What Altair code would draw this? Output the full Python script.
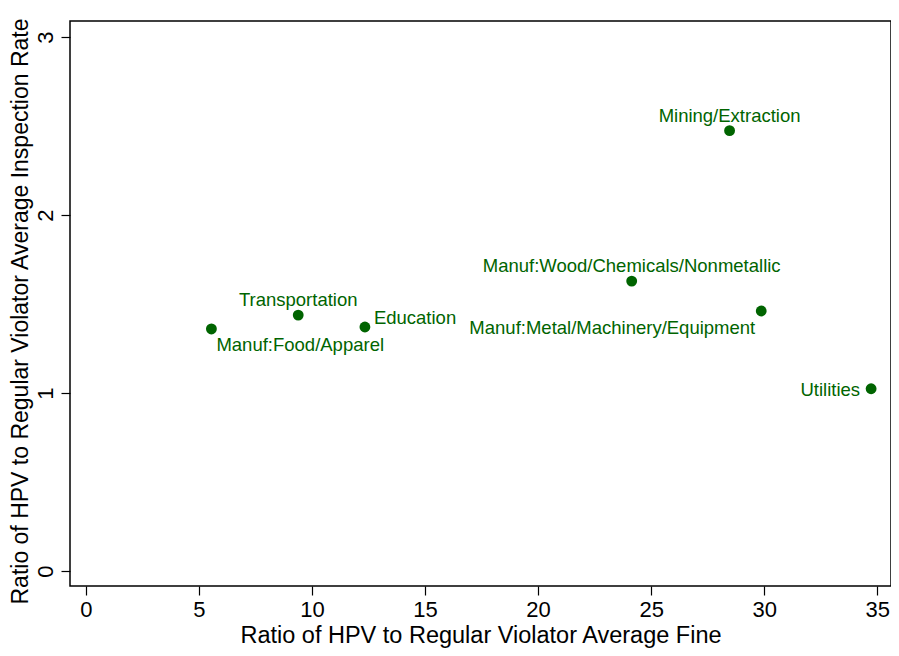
import altair as alt
import pandas as pd

sectors = ["Manuf:Food/Apparel", "Transportation", "Education",
           "Manuf:Wood/Chemicals/Nonmetallic", "Mining/Extraction",
           "Manuf:Metal/Machinery/Equipment", "Utilities"]
fine_ratio = [5.55, 9.39, 12.34, 24.14, 28.47, 29.87, 34.73]
insp_ratio = [1.360, 1.438, 1.371, 1.629, 2.474, 1.461, 1.024]
label_pos = ["below_right", "above", "upper_right", "above", "above", "below_left", "left"]

df = pd.DataFrame({"sector": sectors, "fine": fine_ratio, "insp": insp_ratio, "pos": label_pos})

GREEN = "#006400"
FONT = "Liberation Sans"

xs = alt.Scale(domain=[-0.705, 35.61], nice=False, zero=False)
ys = alt.Scale(domain=[-0.084, 3.09], nice=False, zero=False)

xenc = alt.X("fine:Q", scale=xs,
             axis=alt.Axis(title="Ratio of HPV to Regular Violator Average Fine",
                           values=[0, 5, 10, 15, 20, 25, 30, 35], format="d",
                           grid=False, domain=False, tickSize=9, tickColor="black", tickWidth=1.2,
                           labelFontSize=22, labelColor="black", labelPadding=4,
                           titleFontSize=23.5, titleFontWeight="normal", titleColor="black",
                           titleBaseline="alphabetic", titleY=56,
                           labelFont=FONT, titleFont=FONT))
yenc = alt.Y("insp:Q", scale=ys,
             axis=alt.Axis(title="Ratio of HPV to Regular Violator Average Inspection Rate",
                           values=[0, 1, 2, 3], format="d",
                           grid=False, domain=False, tickSize=9, tickColor="black", tickWidth=1.2,
                           labelAngle=-90, labelAlign="center", labelBaseline="alphabetic",
                           labelFontSize=22, labelColor="black", labelPadding=9,
                           titleFontSize=23, titleFontWeight="normal", titleColor="black",
                           titleBaseline="alphabetic", titleX=-43, titleY=290,
                           labelFont=FONT, titleFont=FONT))

base = alt.Chart(df)

points = base.mark_circle(size=118, color=GREEN, opacity=1).encode(x=xenc, y=yenc)

def lab(pos, align, dx, dy):
    return base.transform_filter(alt.datum.pos == pos).mark_text(
        align=align, baseline="middle", dx=dx, dy=dy, fontSize=18.5, font=FONT, color=GREEN
    ).encode(x="fine:Q", y="insp:Q", text="sector:N")

labels = [
    lab("below_right", "left", 5, 16),
    lab("above", "center", 0, -15),
    lab("upper_right", "left", 9, -9),
    lab("below_left", "right", -6, 17),
    lab("left", "right", -11, 1),
]

chart = alt.layer(points, *labels).properties(
    width=821, height=565,
    autosize=alt.AutoSizeParams(type="none"),
    padding={"left": 62, "top": 13, "right": 0, "bottom": 62},
    background="white",
).configure_view(stroke="black", strokeWidth=1.5)

chart.save("out.html", embed_options={"renderer": "svg", "actions": False})
